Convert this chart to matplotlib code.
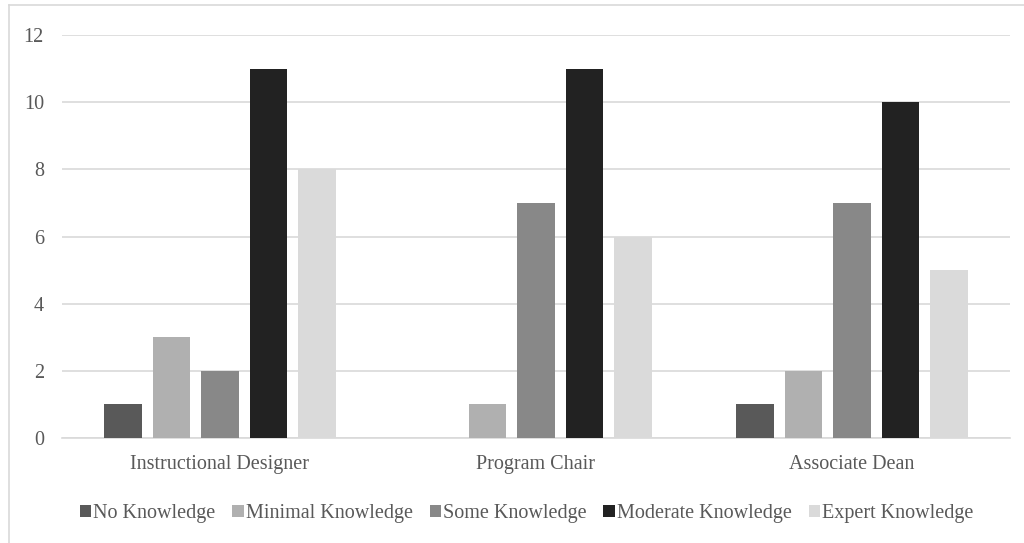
import numpy as np
import matplotlib
matplotlib.use('Agg')
import matplotlib.pyplot as plt
from matplotlib.lines import Line2D

roles = ["Instructional Designer", "Program Chair", "Associate Dean"]
levels = ["No Knowledge", "Minimal Knowledge", "Some Knowledge",
          "Moderate Knowledge", "Expert Knowledge"]
no_knowledge = [1, 0, 1]
minimal_knowledge = [3, 1, 2]
some_knowledge = [2, 7, 7]
moderate_knowledge = [11, 11, 10]
expert_knowledge = [8, 6, 5]
yticks = [0, 2, 4, 6, 8, 10, 12]

series = [no_knowledge, minimal_knowledge, some_knowledge,
          moderate_knowledge, expert_knowledge]
colors = ["#595959", "#b0b0b0", "#888888", "#222222", "#dadada"]
text_color = "#595959"

plt.rcParams['font.family'] = ['Liberation Serif', 'DejaVu Serif']

fig = plt.figure(figsize=(10.24, 5.43), dpi=100)
ax = fig.add_axes([62/1024, 105/543, 948/1024, 403/543])

x = np.arange(len(roles))
width = 0.12
step = 0.1535
for i, (vals, c, lab) in enumerate(zip(series, colors, levels)):
    ax.bar(x + (i - 2) * step, vals, width, color=c, label=lab, zorder=3)

ax.set_xlim(-0.5, len(roles) - 0.5)
ax.set_ylim(0, 12)
ax.set_yticks(yticks)
ax.set_xticks(x)
ax.set_xticklabels(roles)
ax.yaxis.grid(True, color="#d9d9d9", linewidth=1.2, zorder=0)
for s in ["top", "right", "left"]:
    ax.spines[s].set_visible(False)
ax.spines["bottom"].set_color("#d9d9d9")
ax.spines["bottom"].set_linewidth(1.2)
ax.tick_params(axis="both", length=0, labelsize=14.5, colors=text_color)
ax.tick_params(axis="y", pad=13)
ax.tick_params(axis="x", pad=12)

leg = ax.legend(loc="upper center", bbox_to_anchor=(0.49, -0.12), ncol=5,
                frameon=False, fontsize=14.5, handlelength=0.55, handleheight=0.55,
                handletextpad=0.1, columnspacing=0.85)
for t in leg.get_texts():
    t.set_color(text_color)

# light frame around the chart (left and top edges)
fig.add_artist(Line2D([9/1024, 9/1024], [0, 1 - 5/543], transform=fig.transFigure,
                      color="#d9d9d9", linewidth=1.2))
fig.add_artist(Line2D([9/1024, 1], [1 - 5/543, 1 - 5/543], transform=fig.transFigure,
                      color="#d9d9d9", linewidth=1.2))

fig.savefig("out.png", dpi=100)
